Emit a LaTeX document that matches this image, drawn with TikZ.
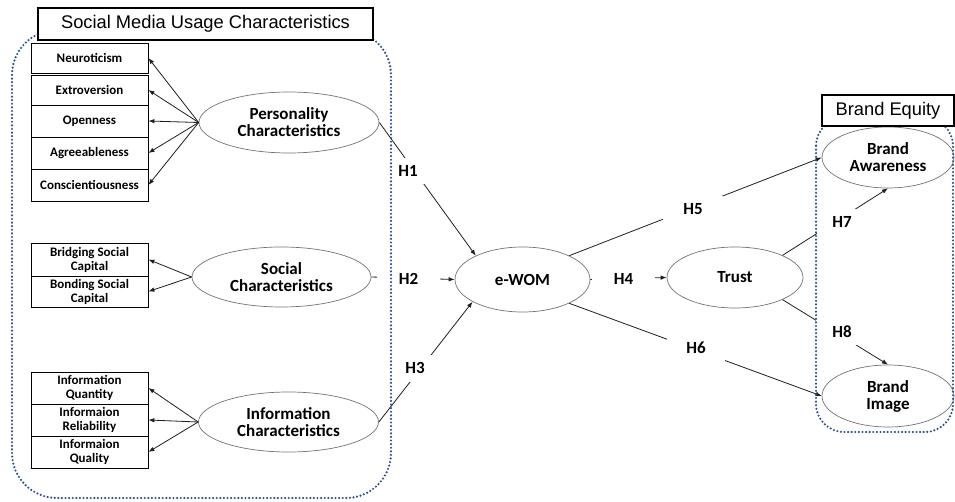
\documentclass[tikz,border=0pt]{standalone}
\usepackage{fontspec}
\setmainfont{Carlito}
\newfontfamily\titlefont{Liberation Sans}
\usetikzlibrary{shapes.geometric,arrows.meta}
\definecolor{dotblue}{RGB}{45,82,145}
\definecolor{ellgray}{RGB}{115,115,115}
\definecolor{linegray}{RGB}{30,30,30}
\tikzset{
  ibox/.style={draw=black, line width=0.8pt, minimum width=117pt, inner sep=0pt, align=center,
    font=\bfseries\fontsize{13}{14}\selectfont},
  lat/.style={draw=ellgray, line width=0.7pt, ellipse, inner sep=0pt, align=center,
    font=\bfseries\fontsize{17}{17}\selectfont},
  conn/.style={draw=linegray, line width=0.8pt},
  arr/.style={conn, -{Latex[length=6pt,width=4.5pt]}},
  hlab/.style={fill=white, inner sep=0pt, font=\bfseries\fontsize{17}{17}\selectfont},
  dotbox/.style={draw=dotblue, line width=2.4pt, line cap=round, dash pattern=on 0pt off 3.6pt},
  titlebox/.style={draw=black, line width=1.8pt, fill=white, inner sep=0pt,
    font=\titlefont\fontsize{18.3}{18}\selectfont}
}
\begin{document}
\begin{tikzpicture}[x=1pt,y=-1pt]
\useasboundingbox (0,0) rectangle (955,502);

% indicator boxes
\node[ibox, minimum height=30pt] (neu) at (89.5,58) {Neuroticism};
\node[ibox, minimum height=30pt] (ext) at (89.5,90) {Extroversion};
\node[ibox, minimum height=32pt] (ope) at (89.5,121) {Openness};
\node[ibox, minimum height=32pt] (agr) at (89.5,153) {Agreeableness};
\node[ibox, minimum height=32pt] (con) at (89.5,185) {Conscientiousness};
\node[ibox, minimum height=33pt] (bri) at (89.5,259.5) {Bridging Social\\Capital};
\node[ibox, minimum height=31pt] (bon) at (89.5,291.5) {Bonding Social\\Capital};
\node[ibox, minimum height=32pt] (qua) at (89.5,388) {Information\\Quantity};
\node[ibox, minimum height=32pt] (rel) at (89.5,420) {Informaion\\Reliability};
\node[ibox, minimum height=32pt] (qlt) at (89.5,452) {Informaion\\Quality};

% latent variables
\node[lat, minimum width=180pt, minimum height=61pt] (pers) at (289,122.5) {Personality\\Characteristics};
\node[lat, minimum width=179pt, minimum height=60pt] (soc) at (281.5,277) {Social\\Characteristics};
\node[lat, minimum width=180pt, minimum height=60pt] (info) at (288.5,422) {Information\\Characteristics};
\node[lat, minimum width=135pt, minimum height=65pt] (ewom) at (522.5,279.5) {e-WOM};
\node[lat, minimum width=136pt, minimum height=61pt] (trust) at (735,277.5) {Trust};
\node[lat, minimum width=132pt, minimum height=61pt] (ba) at (888,157.5) {Brand\\Awareness};
\node[lat, minimum width=132pt, minimum height=62pt] (bi) at (888,396) {Brand\\Image};

% measurement arrows
\draw[arr] (pers.west) -- (neu.east);
\draw[arr] (pers.west) -- (ext.east);
\draw[arr] (pers.west) -- (ope.east);
\draw[arr] (pers.west) -- (agr.east);
\draw[arr] (pers.west) -- (con.east);
\draw[arr] (soc.west) -- (bri.east);
\draw[arr] (soc.west) -- (bon.east);
\draw[arr] (info.west) -- (qua.east);
\draw[arr] (info.west) -- (rel.east);
\draw[arr] (info.west) -- (qlt.east);

% structural paths
\draw[arr] (pers.east) -- (ewom.153);
\draw[arr] (soc.east) -- (ewom.west);
\draw[arr] (info.east) -- (ewom.204);
\draw[arr] (ewom.east) -- (trust.west);
\draw[arr] (ewom.27) -- (ba.west);
\draw[arr] (ewom.-27) -- (bi.west);
\draw[arr] (trust.25) -- (ba.south);
\draw[arr] (trust.-25) -- (bi.north);

% hypothesis labels
\node[hlab, minimum width=34pt, minimum height=26pt] (h1) at (408,171) {H1};
\node[hlab, minimum width=63pt, minimum height=24pt] (h2) at (408.5,279) {H2};
\node[hlab, minimum width=38pt, minimum height=27pt] (h3) at (415,368) {H3};
\node[hlab, minimum width=63pt, minimum height=24pt] (h4) at (623.5,279) {H4};
\node[hlab, minimum width=60pt, minimum height=25pt] (h5) at (693,209) {H5};
\node[hlab, minimum width=58pt, minimum height=26pt] (h6) at (696,348) {H6};
\node[hlab, minimum width=50pt, minimum height=26pt] (h7) at (842,222) {H7};
\node[hlab, minimum width=52pt, minimum height=26pt] (h8) at (842,332) {H8};

% dotted group frames
\draw[dotbox, rounded corners=45pt] (12,30) rectangle (391,498);
\draw[dotbox, rounded corners=28pt] (816,118) rectangle (953,432);

% group titles
\node[titlebox, minimum width=335pt, minimum height=32pt] (smt) at (205.5,24) {Social Media Usage Characteristics};
\node[titlebox, minimum width=132pt, minimum height=31pt] (bet) at (888,110.5) {Brand Equity};
\end{tikzpicture}
\end{document}
